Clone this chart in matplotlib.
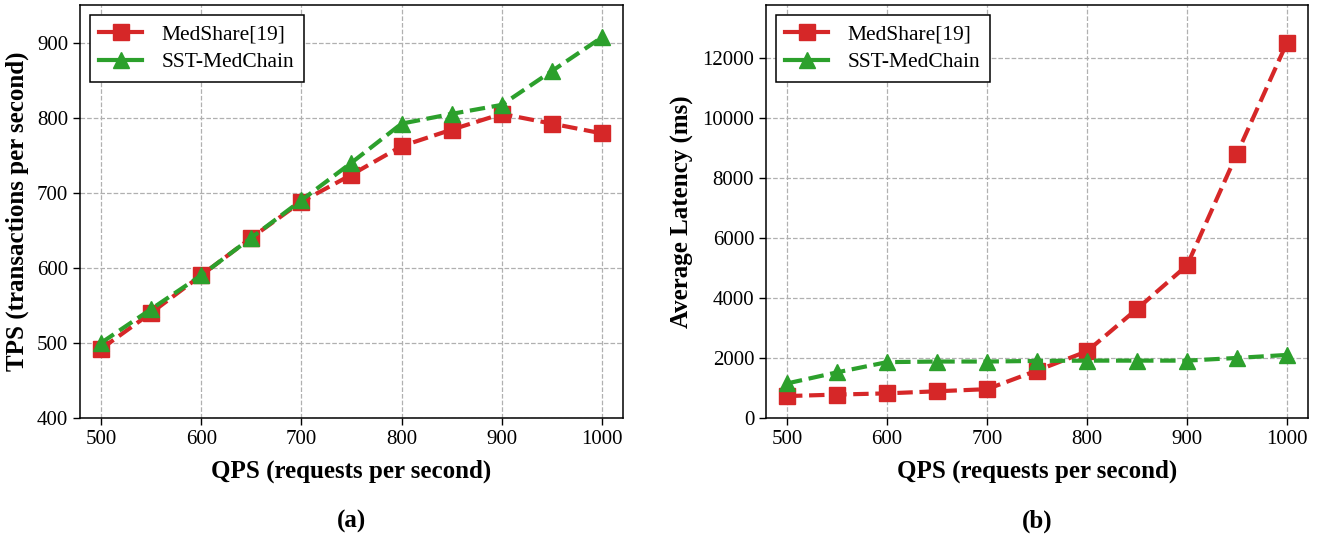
import matplotlib
matplotlib.use("Agg")
import matplotlib.pyplot as plt

QPS = [500, 550, 600, 650, 700, 750, 800, 850, 900, 950, 1000]

# (a) throughput
TPS_MEDSHARE = [492, 540, 590, 640, 688, 724, 762, 784, 805, 792, 779]
TPS_SST = [500, 545, 590, 640, 690, 740, 792, 805, 817, 862, 907]

# (b) average latency, ms
LAT_MEDSHARE = [730, 780, 820, 890, 960, 1580, 2220, 3630, 5080, 8800, 12500]
LAT_SST = [1150, 1520, 1860, 1880, 1880, 1900, 1910, 1910, 1910, 2000, 2100]

LABELS = ["MedShare[19]", "SST-MedChain"]
RED = "#d62728"
GREEN = "#2ca02c"

plt.rcParams["font.family"] = ["Liberation Serif", "DejaVu Serif"]

fig = plt.figure(figsize=(13.22, 5.35), dpi=100)
ax1 = fig.add_axes([80 / 1322, 1 - 418 / 535, 543 / 1322, 413 / 535])
ax2 = fig.add_axes([766 / 1322, 1 - 418 / 535, 542 / 1322, 413 / 535])


def draw(ax, red_vals, green_vals, ylabel, tag):
    ax.plot(QPS, red_vals, color=RED, linestyle="--", linewidth=3,
            marker="s", markersize=11.5, label=LABELS[0])
    ax.plot(QPS, green_vals, color=GREEN, linestyle="--", linewidth=3,
            marker="^", markersize=11.5, label=LABELS[1])
    ax.grid(True, linestyle="--", color="#b0b0b0", linewidth=0.9)
    ax.set_axisbelow(True)
    ax.set_xlim(479, 1021)
    ax.set_xticks([500, 600, 700, 800, 900, 1000])
    ax.tick_params(labelsize=15, length=5, width=1)
    ax.set_xlabel("QPS (requests per second)", fontsize=18, fontweight="bold",
                  labelpad=8)
    ax.set_ylabel(ylabel, fontsize=18, fontweight="bold", labelpad=6)
    for s in ax.spines.values():
        s.set_linewidth(1.1)
    leg = ax.legend(loc="upper left", fontsize=15.5, handlelength=2.0,
                    handletextpad=0.9, fancybox=False, edgecolor="black",
                    framealpha=1, borderpad=0.45, borderaxespad=0.45,
                    labelspacing=0.35)
    leg.get_frame().set_linewidth(1.1)
    for ln in leg.get_lines():
        ln.set_linestyle("-")
    ax.text(0.5, -0.25, tag, transform=ax.transAxes, ha="center", va="center",
            fontsize=18, fontweight="bold")


draw(ax1, TPS_MEDSHARE, TPS_SST, "TPS (transactions per second)", "(a)")
ax1.set_ylim(400, 950)
ax1.set_yticks([400, 500, 600, 700, 800, 900])

draw(ax2, LAT_MEDSHARE, LAT_SST, "Average Latency (ms)", "(b)")
ax2.set_ylim(0, 13750)
ax2.set_yticks(range(0, 12001, 2000))

fig.savefig("out.png", dpi=100)
